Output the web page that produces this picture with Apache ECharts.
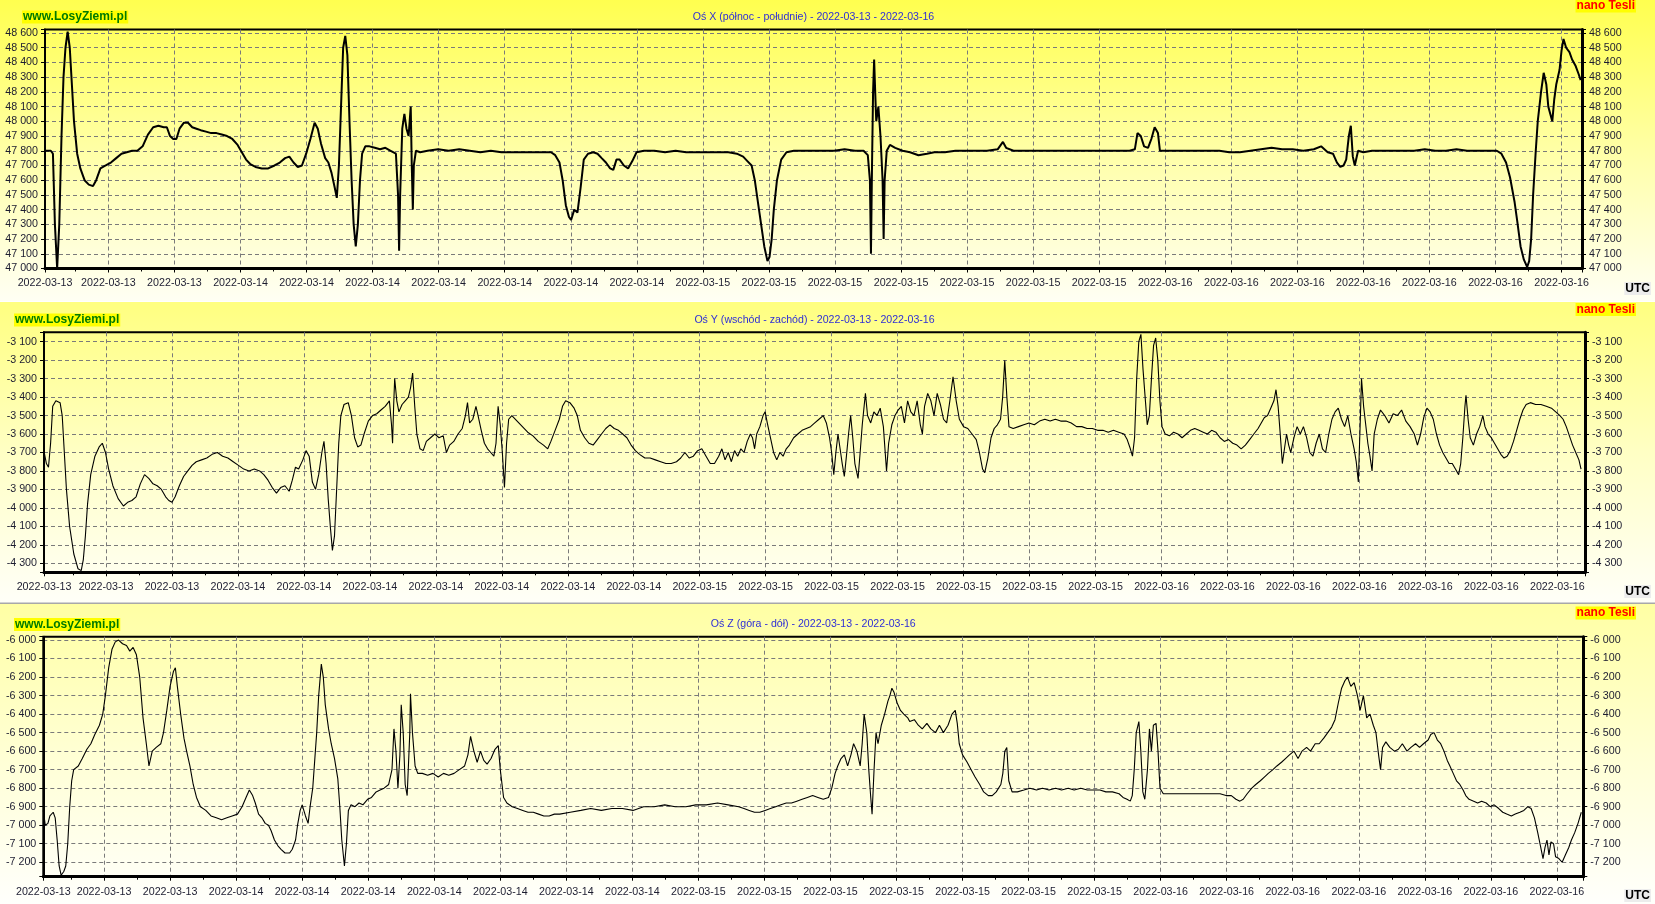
<!DOCTYPE html>
<html>
<head>
<meta charset="utf-8">
<script src="https://cdn.jsdelivr.net/npm/echarts@6/dist/echarts.min.js"></script>
<style>
  html, body { margin: 0; padding: 0; background: #fff; }
  #chart { width: 1655px; height: 904px; }
</style>
</head>
<body>
<div id="chart"></div>
<script>
// podpisy osi czasu (24 etykiety: na lewej krawedzi i przy kazdej pionowej linii siatki)
const xTickLabels = [
  '2022-03-13', '2022-03-13', '2022-03-13',
  '2022-03-14', '2022-03-14', '2022-03-14', '2022-03-14', '2022-03-14', '2022-03-14', '2022-03-14',
  '2022-03-15', '2022-03-15', '2022-03-15', '2022-03-15', '2022-03-15', '2022-03-15', '2022-03-15',
  '2022-03-16', '2022-03-16', '2022-03-16', '2022-03-16', '2022-03-16', '2022-03-16', '2022-03-16'
];

const panelTitles = [
  'Oś X (północ - południe) - 2022-03-13 - 2022-03-16',
  'Oś Y (wschód - zachód) - 2022-03-13 - 2022-03-16',
  'Oś Z (góra - dół) - 2022-03-13 - 2022-03-16'
];

// [czas w jednostkach siatki, nT]
const fieldX = [
  [0.04,47800],[0.128,47800],[0.16,47780],[0.19,47300],[0.224,47000],[0.256,47300],[0.29,47900],[0.32,48300],[0.35,48500],[0.383,48610],
  [0.415,48500],[0.447,48250],[0.479,48000],[0.527,47780],[0.575,47680],[0.639,47600],[0.703,47570],[0.767,47560],[0.815,47600],[0.879,47680],
  [0.959,47700],[1.038,47720],[1.118,47750],[1.198,47780],[1.278,47790],[1.358,47800],[1.438,47800],[1.518,47830],[1.598,47910],[1.678,47960],
  [1.757,47970],[1.837,47960],[1.885,47960],[1.933,47900],[1.981,47880],[2.029,47880],[2.077,47950],[2.141,47990],[2.205,47990],[2.269,47960],
  [2.333,47950],[2.397,47940],[2.477,47930],[2.556,47920],[2.636,47920],[2.716,47910],[2.796,47900],[2.876,47880],[2.956,47840],[3.02,47790],
  [3.084,47740],[3.147,47710],[3.227,47690],[3.323,47680],[3.419,47680],[3.515,47700],[3.595,47720],[3.675,47750],[3.739,47760],[3.803,47720],
  [3.867,47690],[3.93,47700],[3.994,47780],[4.058,47880],[4.122,47990],[4.17,47950],[4.218,47850],[4.282,47750],[4.33,47720],[4.378,47650],
  [4.426,47550],[4.458,47480],[4.49,47700],[4.522,48100],[4.554,48500],[4.586,48580],[4.618,48450],[4.65,48000],[4.682,47600],[4.713,47300],
  [4.745,47150],[4.777,47300],[4.809,47600],[4.841,47780],[4.889,47830],[4.953,47830],[5.033,47820],[5.113,47810],[5.193,47820],[5.273,47800],
  [5.353,47780],[5.385,47500],[5.401,47120],[5.417,47500],[5.449,47950],[5.481,48050],[5.513,47950],[5.545,47900],[5.577,48100],[5.593,47700],
  [5.609,47400],[5.624,47700],[5.656,47800],[5.72,47790],[5.832,47800],[5.992,47810],[6.151,47800],[6.311,47810],[6.471,47800],[6.631,47790],
  [6.79,47800],[6.95,47790],[7.11,47790],[7.27,47790],[7.429,47790],[7.589,47790],[7.701,47790],[7.765,47770],[7.829,47720],[7.877,47600],
  [7.925,47430],[7.973,47350],[8.005,47330],[8.053,47400],[8.101,47380],[8.149,47550],[8.197,47740],[8.261,47780],[8.341,47790],[8.405,47780],
  [8.468,47750],[8.532,47720],[8.596,47680],[8.644,47670],[8.692,47740],[8.74,47740],[8.804,47700],[8.868,47680],[8.932,47730],[8.996,47790],
  [9.108,47800],[9.267,47800],[9.427,47790],[9.587,47800],[9.747,47790],[9.907,47790],[10.066,47790],[10.226,47790],[10.386,47790],[10.514,47780],
  [10.61,47760],[10.674,47730],[10.738,47700],[10.786,47600],[10.834,47450],[10.882,47300],[10.93,47150],[10.978,47050],[11.01,47080],[11.042,47200],
  [11.074,47400],[11.122,47600],[11.186,47740],[11.266,47790],[11.378,47800],[11.506,47800],[11.666,47800],[11.825,47800],[11.985,47800],[12.145,47810],
  [12.305,47800],[12.433,47800],[12.497,47770],[12.529,47600],[12.545,47100],[12.561,47700],[12.577,48200],[12.593,48420],[12.609,48200],[12.625,48000],
  [12.657,48100],[12.689,47900],[12.721,47600],[12.737,47200],[12.752,47600],[12.784,47800],[12.832,47840],[12.912,47820],[13.024,47800],[13.136,47790],
  [13.264,47770],[13.392,47780],[13.504,47790],[13.664,47790],[13.823,47800],[13.983,47800],[14.143,47800],[14.303,47800],[14.463,47810],[14.543,47860],
  [14.591,47820],[14.703,47800],[14.863,47800],[15.02,47800],[15.18,47800],[15.34,47800],[15.5,47800],[15.66,47800],[15.82,47800],[15.98,47800],
  [16.14,47800],[16.3,47800],[16.46,47800],[16.54,47810],[16.58,47920],[16.63,47900],[16.68,47830],[16.74,47820],[16.79,47880],[16.84,47960],
  [16.89,47920],[16.92,47800],[17.02,47800],[17.18,47800],[17.34,47800],[17.5,47800],[17.66,47800],[17.82,47800],[17.97,47790],[18.13,47790],
  [18.29,47800],[18.45,47810],[18.61,47820],[18.77,47810],[18.93,47810],[19.09,47800],[19.25,47810],[19.36,47830],[19.46,47790],[19.54,47780],
  [19.6,47720],[19.65,47690],[19.7,47700],[19.74,47740],[19.78,47900],[19.81,47970],[19.84,47760],[19.87,47700],[19.92,47800],[20.0,47790],
  [20.13,47800],[20.29,47800],[20.45,47800],[20.61,47800],[20.77,47800],[20.93,47810],[21.09,47800],[21.25,47800],[21.41,47810],[21.57,47800],
  [21.73,47800],[21.89,47800],[22.02,47800],[22.09,47780],[22.16,47720],[22.22,47620],[22.29,47450],[22.33,47320],[22.38,47150],[22.43,47060],
  [22.48,47010],[22.51,47050],[22.54,47200],[22.57,47500],[22.61,47800],[22.64,48000],[22.69,48200],[22.73,48330],[22.77,48250],[22.8,48100],
  [22.83,48050],[22.86,48000],[22.89,48150],[22.92,48250],[22.97,48350],[23.0,48480],[23.03,48560],[23.07,48500],[23.12,48470],[23.16,48420],
  [23.21,48380],[23.26,48320],[23.29,48280]
];

const fieldY = [
  [0.064,-3700],[0.096,-3760],[0.128,-3780],[0.16,-3650],[0.192,-3450],[0.24,-3420],[0.304,-3430],[0.336,-3500],[0.368,-3700],[0.4,-3900],
  [0.448,-4100],[0.512,-4250],[0.576,-4330],[0.624,-4340],[0.656,-4280],[0.688,-4150],[0.72,-3980],[0.768,-3820],[0.832,-3720],[0.896,-3670],
  [0.944,-3650],[0.992,-3700],[1.04,-3790],[1.104,-3880],[1.184,-3950],[1.264,-3990],[1.328,-3970],[1.392,-3960],[1.456,-3940],[1.52,-3870],
  [1.584,-3820],[1.648,-3840],[1.712,-3870],[1.776,-3880],[1.84,-3900],[1.904,-3940],[1.952,-3960],[2.0,-3970],[2.048,-3940],[2.112,-3880],
  [2.176,-3830],[2.24,-3800],[2.304,-3770],[2.368,-3750],[2.448,-3740],[2.528,-3730],[2.608,-3710],[2.688,-3700],[2.768,-3720],[2.848,-3730],
  [2.928,-3750],[3.008,-3770],[3.088,-3790],[3.168,-3800],[3.248,-3790],[3.328,-3800],[3.392,-3820],[3.456,-3850],[3.52,-3890],[3.584,-3920],
  [3.648,-3890],[3.712,-3880],[3.776,-3910],[3.824,-3850],[3.872,-3780],[3.92,-3790],[3.984,-3740],[4.032,-3690],[4.08,-3720],[4.128,-3860],
  [4.176,-3900],[4.224,-3820],[4.272,-3700],[4.304,-3640],[4.336,-3760],[4.368,-3950],[4.4,-4100],[4.432,-4230],[4.464,-4150],[4.496,-3900],
  [4.528,-3650],[4.56,-3500],[4.608,-3440],[4.672,-3430],[4.72,-3500],[4.768,-3620],[4.816,-3670],[4.864,-3660],[4.912,-3600],[4.976,-3530],
  [5.04,-3500],[5.104,-3490],[5.168,-3470],[5.232,-3450],[5.296,-3420],[5.328,-3550],[5.344,-3650],[5.36,-3450],[5.376,-3300],[5.408,-3420],
  [5.44,-3480],[5.488,-3440],[5.536,-3420],[5.584,-3400],[5.616,-3350],[5.648,-3270],[5.68,-3450],[5.712,-3600],[5.76,-3680],[5.808,-3690],
  [5.856,-3640],[5.92,-3620],[5.984,-3600],[6.048,-3620],[6.112,-3610],[6.16,-3700],[6.208,-3660],[6.272,-3640],[6.336,-3600],[6.4,-3570],
  [6.448,-3500],[6.48,-3430],[6.512,-3540],[6.56,-3520],[6.608,-3450],[6.64,-3500],[6.688,-3580],[6.736,-3650],[6.784,-3680],[6.832,-3700],
  [6.88,-3720],[6.912,-3650],[6.944,-3450],[6.976,-3550],[7.008,-3700],[7.04,-3890],[7.072,-3650],[7.104,-3520],[7.152,-3500],[7.232,-3530],
  [7.312,-3560],[7.392,-3590],[7.472,-3610],[7.552,-3640],[7.632,-3660],[7.696,-3680],[7.744,-3640],[7.808,-3580],[7.872,-3520],[7.92,-3450],
  [7.968,-3420],[8.032,-3430],[8.096,-3460],[8.144,-3500],[8.192,-3580],[8.256,-3620],[8.32,-3650],[8.384,-3660],[8.448,-3630],[8.512,-3600],
  [8.576,-3570],[8.64,-3550],[8.704,-3570],[8.768,-3580],[8.832,-3600],[8.896,-3620],[8.96,-3660],[9.024,-3690],[9.088,-3710],[9.168,-3730],
  [9.248,-3730],[9.328,-3740],[9.408,-3750],[9.488,-3760],[9.568,-3760],[9.648,-3750],[9.712,-3730],[9.776,-3700],[9.84,-3730],[9.904,-3720],
  [9.968,-3690],[10.032,-3680],[10.096,-3720],[10.16,-3760],[10.224,-3760],[10.288,-3720],[10.336,-3680],[10.384,-3740],[10.432,-3700],[10.48,-3750],
  [10.528,-3690],[10.576,-3720],[10.624,-3680],[10.672,-3700],[10.72,-3640],[10.768,-3600],[10.8,-3620],[10.832,-3680],[10.864,-3600],[10.912,-3560],
  [10.96,-3500],[10.992,-3480],[11.024,-3540],[11.072,-3620],[11.12,-3700],[11.168,-3740],[11.216,-3700],[11.264,-3720],[11.312,-3680],[11.36,-3660],
  [11.424,-3620],[11.488,-3600],[11.552,-3580],[11.616,-3570],[11.68,-3560],[11.744,-3540],[11.808,-3520],[11.872,-3500],[11.92,-3540],[11.968,-3620],
  [12.0,-3700],[12.032,-3820],[12.064,-3700],[12.096,-3600],[12.128,-3680],[12.16,-3760],[12.192,-3830],[12.224,-3720],[12.256,-3600],[12.288,-3500],
  [12.32,-3620],[12.352,-3760],[12.4,-3840],[12.432,-3700],[12.464,-3550],[12.512,-3380],[12.544,-3500],[12.592,-3540],[12.64,-3480],[12.688,-3500],
  [12.736,-3460],[12.784,-3560],[12.832,-3800],[12.864,-3650],[12.912,-3550],[12.96,-3500],[13.008,-3470],[13.056,-3450],[13.104,-3540],[13.152,-3420],
  [13.2,-3480],[13.248,-3500],[13.296,-3420],[13.344,-3550],[13.376,-3600],[13.408,-3450],[13.456,-3380],[13.504,-3420],[13.552,-3500],[13.6,-3380],
  [13.648,-3440],[13.696,-3520],[13.744,-3540],[13.792,-3420],[13.84,-3290],[13.888,-3420],[13.936,-3520],[14.0,-3560],[14.064,-3570],[14.128,-3600],
  [14.192,-3630],[14.24,-3700],[14.288,-3790],[14.32,-3810],[14.368,-3730],[14.416,-3620],[14.464,-3570],[14.512,-3550],[14.56,-3520],[14.592,-3400],
  [14.624,-3200],[14.656,-3400],[14.688,-3560],[14.752,-3570],[14.832,-3560],[14.912,-3550],[14.992,-3540],[15.072,-3550],[15.152,-3530],[15.232,-3520],
  [15.312,-3530],[15.392,-3520],[15.472,-3530],[15.552,-3530],[15.632,-3540],[15.712,-3560],[15.792,-3560],[15.872,-3570],[15.952,-3570],[16.032,-3580],
  [16.112,-3580],[16.192,-3590],[16.272,-3580],[16.352,-3590],[16.432,-3600],[16.48,-3630],[16.528,-3680],[16.56,-3720],[16.592,-3620],[16.624,-3300],
  [16.656,-3100],[16.688,-3060],[16.72,-3250],[16.752,-3400],[16.784,-3550],[16.816,-3500],[16.848,-3300],[16.88,-3120],[16.912,-3080],[16.944,-3200],
  [16.976,-3420],[17.008,-3560],[17.056,-3600],[17.12,-3610],[17.184,-3590],[17.248,-3600],[17.312,-3620],[17.376,-3600],[17.44,-3580],[17.504,-3570],
  [17.568,-3580],[17.632,-3590],[17.696,-3600],[17.76,-3580],[17.824,-3590],[17.888,-3620],[17.952,-3640],[18.016,-3630],[18.08,-3650],[18.144,-3660],
  [18.208,-3680],[18.272,-3660],[18.336,-3630],[18.4,-3600],[18.464,-3570],[18.512,-3540],[18.56,-3510],[18.608,-3500],[18.656,-3460],[18.704,-3420],
  [18.736,-3360],[18.768,-3450],[18.8,-3600],[18.832,-3760],[18.864,-3680],[18.896,-3600],[18.928,-3660],[18.96,-3700],[19.008,-3620],[19.056,-3560],
  [19.104,-3600],[19.152,-3560],[19.2,-3620],[19.248,-3700],[19.296,-3720],[19.344,-3650],[19.392,-3600],[19.44,-3680],[19.488,-3700],[19.536,-3600],
  [19.584,-3520],[19.632,-3480],[19.68,-3460],[19.728,-3520],[19.776,-3560],[19.824,-3500],[19.872,-3600],[19.92,-3680],[19.952,-3750],[19.984,-3860],
  [20.016,-3500],[20.032,-3300],[20.064,-3450],[20.096,-3550],[20.128,-3650],[20.16,-3720],[20.192,-3800],[20.224,-3600],[20.272,-3520],[20.32,-3470],
  [20.384,-3500],[20.448,-3540],[20.512,-3490],[20.576,-3500],[20.64,-3470],[20.704,-3530],[20.768,-3560],[20.832,-3600],[20.88,-3660],[20.928,-3600],
  [20.976,-3510],[21.024,-3460],[21.072,-3480],[21.12,-3520],[21.168,-3600],[21.216,-3660],[21.264,-3700],[21.312,-3730],[21.36,-3760],[21.408,-3760],
  [21.456,-3790],[21.504,-3820],[21.536,-3760],[21.568,-3620],[21.6,-3450],[21.616,-3390],[21.648,-3520],[21.68,-3620],[21.728,-3660],[21.776,-3600],
  [21.824,-3560],[21.872,-3500],[21.904,-3560],[21.952,-3600],[22.0,-3620],[22.048,-3650],[22.096,-3680],[22.144,-3710],[22.192,-3730],[22.24,-3720],
  [22.288,-3690],[22.336,-3640],[22.384,-3580],[22.432,-3520],[22.48,-3470],[22.528,-3440],[22.592,-3430],[22.672,-3440],[22.752,-3440],[22.832,-3450],
  [22.912,-3460],[22.976,-3480],[23.04,-3500],[23.088,-3520],[23.136,-3560],[23.184,-3610],[23.232,-3660],[23.28,-3700],[23.328,-3740],[23.36,-3790]
];

const fieldZ = [
  [0.08,-6920],[0.11,-7000],[0.15,-6990],[0.18,-6950],[0.23,-6930],[0.26,-6960],[0.29,-7080],[0.32,-7220],[0.35,-7270],[0.39,-7250],
  [0.42,-7220],[0.45,-7100],[0.48,-6900],[0.51,-6760],[0.54,-6700],[0.61,-6680],[0.67,-6640],[0.74,-6590],[0.8,-6560],[0.86,-6510],
  [0.93,-6460],[0.98,-6400],[1.02,-6300],[1.07,-6150],[1.12,-6050],[1.17,-6010],[1.22,-6000],[1.28,-6020],[1.34,-6030],[1.39,-6060],
  [1.44,-6040],[1.49,-6080],[1.54,-6200],[1.59,-6420],[1.64,-6560],[1.68,-6680],[1.73,-6600],[1.79,-6580],[1.86,-6560],[1.9,-6500],
  [1.95,-6380],[2.0,-6250],[2.05,-6170],[2.08,-6150],[2.11,-6250],[2.16,-6400],[2.21,-6530],[2.25,-6600],[2.3,-6680],[2.35,-6780],
  [2.4,-6850],[2.46,-6900],[2.54,-6920],[2.62,-6950],[2.7,-6960],[2.78,-6970],[2.86,-6960],[2.94,-6950],[3.02,-6940],[3.09,-6900],
  [3.15,-6850],[3.2,-6810],[3.25,-6840],[3.29,-6880],[3.34,-6940],[3.39,-6960],[3.44,-6990],[3.49,-7000],[3.53,-7030],[3.58,-7080],
  [3.63,-7110],[3.68,-7130],[3.74,-7150],[3.81,-7150],[3.85,-7130],[3.9,-7080],[3.93,-7000],[3.97,-6920],[4.0,-6890],[4.05,-6950],
  [4.09,-6990],[4.12,-6900],[4.16,-6800],[4.19,-6650],[4.22,-6500],[4.25,-6300],[4.29,-6130],[4.32,-6200],[4.35,-6350],[4.4,-6480],
  [4.44,-6560],[4.49,-6640],[4.54,-6750],[4.57,-6900],[4.6,-7080],[4.64,-7220],[4.67,-7100],[4.7,-6920],[4.74,-6890],[4.8,-6900],
  [4.86,-6880],[4.92,-6890],[4.99,-6860],[5.05,-6850],[5.12,-6820],[5.18,-6810],[5.24,-6800],[5.31,-6780],[5.36,-6700],[5.39,-6480],
  [5.42,-6600],[5.45,-6800],[5.48,-6620],[5.5,-6350],[5.53,-6500],[5.56,-6780],[5.59,-6840],[5.63,-6500],[5.64,-6290],[5.67,-6500],
  [5.71,-6680],[5.75,-6720],[5.82,-6720],[5.9,-6730],[5.98,-6720],[6.06,-6740],[6.14,-6720],[6.22,-6730],[6.3,-6720],[6.38,-6700],
  [6.46,-6680],[6.51,-6620],[6.55,-6520],[6.6,-6600],[6.65,-6660],[6.7,-6600],[6.75,-6650],[6.8,-6670],[6.86,-6640],[6.92,-6590],
  [6.97,-6570],[7.0,-6700],[7.05,-6850],[7.1,-6880],[7.18,-6900],[7.26,-6910],[7.34,-6920],[7.42,-6930],[7.5,-6930],[7.58,-6940],
  [7.66,-6950],[7.74,-6950],[7.82,-6940],[7.9,-6940],[8.06,-6930],[8.22,-6920],[8.37,-6910],[8.53,-6920],[8.69,-6910],[8.85,-6910],
  [9.01,-6920],[9.17,-6900],[9.33,-6900],[9.49,-6890],[9.65,-6900],[9.81,-6900],[9.96,-6890],[10.12,-6890],[10.29,-6880],[10.45,-6890],
  [10.61,-6900],[10.69,-6910],[10.77,-6920],[10.85,-6930],[10.93,-6930],[11.01,-6920],[11.09,-6910],[11.17,-6900],[11.25,-6890],[11.33,-6880],
  [11.41,-6880],[11.49,-6870],[11.57,-6860],[11.65,-6850],[11.73,-6840],[11.81,-6850],[11.89,-6860],[11.97,-6850],[12.02,-6800],[12.07,-6720],
  [12.11,-6680],[12.16,-6640],[12.21,-6620],[12.26,-6680],[12.31,-6620],[12.35,-6560],[12.4,-6600],[12.45,-6680],[12.48,-6560],[12.51,-6400],
  [12.55,-6500],[12.58,-6700],[12.61,-6850],[12.63,-6940],[12.66,-6700],[12.69,-6500],[12.72,-6560],[12.77,-6460],[12.82,-6400],[12.87,-6330],
  [12.9,-6300],[12.93,-6260],[12.96,-6280],[13.01,-6340],[13.06,-6380],[13.11,-6400],[13.17,-6420],[13.2,-6440],[13.27,-6430],[13.33,-6460],
  [13.39,-6480],[13.46,-6450],[13.52,-6480],[13.59,-6500],[13.65,-6460],[13.71,-6500],[13.78,-6460],[13.84,-6400],[13.89,-6380],[13.92,-6450],
  [13.95,-6560],[14.0,-6620],[14.07,-6660],[14.13,-6700],[14.19,-6740],[14.26,-6780],[14.32,-6820],[14.39,-6840],[14.45,-6840],[14.51,-6820],
  [14.58,-6780],[14.61,-6720],[14.64,-6600],[14.67,-6580],[14.7,-6760],[14.75,-6820],[14.83,-6820],[14.93,-6810],[15.02,-6800],[15.12,-6810],
  [15.21,-6800],[15.31,-6810],[15.41,-6800],[15.5,-6810],[15.6,-6800],[15.69,-6810],[15.79,-6800],[15.89,-6810],[15.98,-6810],[16.08,-6810],
  [16.17,-6820],[16.27,-6820],[16.37,-6830],[16.43,-6850],[16.49,-6860],[16.54,-6870],[16.57,-6840],[16.6,-6700],[16.63,-6500],[16.67,-6440],
  [16.7,-6600],[16.73,-6820],[16.76,-6860],[16.8,-6700],[16.83,-6480],[16.86,-6600],[16.89,-6460],[16.93,-6450],[16.96,-6600],[16.99,-6800],
  [17.04,-6830],[17.13,-6830],[17.23,-6830],[17.32,-6830],[17.42,-6830],[17.52,-6830],[17.61,-6830],[17.71,-6830],[17.8,-6830],[17.9,-6830],
  [17.99,-6840],[18.07,-6840],[18.14,-6860],[18.2,-6870],[18.25,-6860],[18.31,-6830],[18.38,-6800],[18.44,-6780],[18.51,-6760],[18.57,-6740],
  [18.63,-6720],[18.7,-6700],[18.76,-6680],[18.83,-6660],[18.89,-6640],[18.95,-6620],[19.02,-6600],[19.08,-6640],[19.14,-6600],[19.21,-6580],
  [19.27,-6600],[19.34,-6560],[19.4,-6560],[19.47,-6530],[19.53,-6500],[19.59,-6470],[19.64,-6430],[19.69,-6340],[19.74,-6260],[19.79,-6220],
  [19.83,-6200],[19.88,-6250],[19.93,-6230],[19.98,-6300],[20.02,-6380],[20.07,-6300],[20.12,-6420],[20.17,-6400],[20.22,-6460],[20.26,-6500],
  [20.3,-6620],[20.33,-6700],[20.36,-6580],[20.41,-6550],[20.47,-6580],[20.54,-6600],[20.6,-6590],[20.66,-6560],[20.73,-6600],[20.79,-6580],
  [20.86,-6560],[20.92,-6580],[20.98,-6560],[21.05,-6540],[21.09,-6510],[21.14,-6500],[21.19,-6540],[21.24,-6560],[21.29,-6600],[21.34,-6650],
  [21.38,-6680],[21.43,-6720],[21.48,-6760],[21.53,-6780],[21.58,-6810],[21.62,-6840],[21.67,-6860],[21.74,-6870],[21.8,-6880],[21.86,-6870],
  [21.93,-6880],[21.99,-6900],[22.05,-6890],[22.12,-6910],[22.18,-6930],[22.24,-6940],[22.31,-6950],[22.37,-6940],[22.44,-6930],[22.5,-6920],
  [22.56,-6900],[22.61,-6910],[22.66,-6960],[22.71,-7040],[22.75,-7110],[22.79,-7180],[22.82,-7120],[22.85,-7080],[22.88,-7160],[22.91,-7090],
  [22.95,-7100],[22.98,-7170],[23.03,-7180],[23.08,-7200],[23.13,-7160],[23.18,-7120],[23.22,-7080],[23.27,-7040],[23.32,-6990],[23.37,-6930]
];

const fieldData = [fieldX, fieldY, fieldZ];

// uklad paneli (piksele) i zakresy osi
const panels = [
  { bgTop: 0, bgH: 301, colors: ['#ffff4f', '#ffffa6', '#fffff4'],
    grid: { left: 45, top: 29.5, width: 1537, height: 239 },
    xMin: 0.04, xMax: 23.31, yMin: 47000, yMax: 48624, ySplit: 16, lineWidth: 2,
    siteX: 22, siteY: 17, titleY: 17, unitY: 6, utcY: 288.5 },
  { bgTop: 302, bgH: 300, colors: ['#ffff80', '#ffffc4', '#fffff8'],
    grid: { left: 44, top: 332.3, width: 1541, height: 240 },
    xMin: 0.06, xMax: 23.42, yMin: -4349, yMax: -3049, ySplit: 13, lineWidth: 1.1,
    siteX: 14, siteY: 320, titleY: 320.5, unitY: 309.5, utcY: 591.5 },
  { bgTop: 604, bgH: 300, colors: ['#ffffa4', '#ffffd4', '#fffffc'],
    grid: { left: 43.3, top: 636.7, width: 1540, height: 240 },
    xMin: 0.08, xMax: 23.40, yMin: -7278, yMax: -5982, ySplit: 13, lineWidth: 1.1,
    siteX: 14, siteY: 624.5, titleY: 624.5, unitY: 613, utcY: 895.5 }
];

const FONT = '"Liberation Sans", Arial, sans-serif';
const LABEL_COLOR = '#1c1c30';

function formatNT(v) {
  if (Math.abs(v % 100) > 1e-6) return '';
  const s = String(Math.abs(Math.round(v)));
  const t = s.length > 3 ? s.slice(0, -3) + ' ' + s.slice(-3) : s;
  return (v < 0 ? '-' : '') + t;
}

function timeFormatter(min) {
  return function (v) {
    if (Math.abs(v - min) < 1e-6) return xTickLabels[0];
    const r = Math.round(v);
    if (Math.abs(v - r) > 1e-6) return '';
    return xTickLabels[r] || '';
  };
}

const grids = [], xAxes = [], yAxes = [], series = [], graphics = [];

panels.forEach(function (p, i) {
  grids.push(Object.assign({ show: true, borderColor: '#000', borderWidth: 2, backgroundColor: 'transparent', outerBoundsMode: 'none' }, p.grid));

  xAxes.push({
    type: 'value', gridIndex: i, min: p.xMin, max: p.xMax, splitNumber: 23,
    axisLine: { show: true, onZero: false, lineStyle: { color: '#000', width: 3 } },
    axisTick: { show: true, length: 4, lineStyle: { color: '#000' } },
    minorTick: { show: true, splitNumber: 2, length: 3, lineStyle: { color: '#000' } },
    axisLabel: { show: true, interval: 0, showMinLabel: true, margin: 9.5, color: LABEL_COLOR, fontFamily: FONT, fontSize: 10.7, formatter: timeFormatter(p.xMin) },
    splitLine: { show: true, showMinLine: false, showMaxLine: false, lineStyle: { color: '#7a7a7a', type: [4, 3], width: 1 } }
  });

  const yCommon = {
    type: 'value', gridIndex: i, min: p.yMin, max: p.yMax, splitNumber: p.ySplit,
    axisTick: { show: true, length: 4, lineStyle: { color: '#000' } },
    axisLabel: { show: true, margin: 7, color: LABEL_COLOR, fontFamily: FONT, fontSize: 10.7, formatter: formatNT, showMinLabel: true, showMaxLabel: true }
  };
  yAxes.push(Object.assign({}, yCommon, {
    position: 'left',
    axisLine: { show: true, onZero: false, lineStyle: { color: '#000', width: 2 } },
    splitLine: { show: true, showMinLine: false, showMaxLine: false, lineStyle: { color: '#7a7a7a', type: [4, 3], width: 1 } }
  }));
  yAxes.push(Object.assign({}, yCommon, {
    position: 'right',
    axisLine: { show: true, onZero: false, lineStyle: { color: '#000', width: 3 } },
    splitLine: { show: false }
  }));

  series.push({
    type: 'line', xAxisIndex: i, yAxisIndex: i * 2, data: fieldData[i],
    showSymbol: false, symbol: 'none', clip: true, animation: false,
    lineStyle: { color: '#000', width: p.lineWidth }, z: 3
  });

  // tlo panelu
  graphics.push({
    type: 'rect', z: -10, silent: true,
    shape: { x: 0, y: p.bgTop, width: 1655, height: p.bgH },
    style: { fill: new echarts.graphic.LinearGradient(0, 0, 0, 1, [
      { offset: 0, color: p.colors[0] }, { offset: 0.5, color: p.colors[1] }, { offset: 1, color: p.colors[2] }
    ]) }
  });
  graphics.push({
    type: 'text', z: 50, x: p.siteX, y: p.siteY,
    style: { text: 'www.LosyZiemi.pl', fill: '#007a00', fontFamily: FONT, fontWeight: 'bold', fontSize: 12,
      backgroundColor: '#ffff00', padding: [1, 1, 0, 1], align: 'left', verticalAlign: 'middle' }
  });
  graphics.push({
    type: 'text', z: 50, x: p.grid.left + p.grid.width / 2, y: p.titleY,
    style: { text: panelTitles[i], fill: '#2f2fd6', fontFamily: FONT, fontSize: 10.6, align: 'center', verticalAlign: 'middle' }
  });
  graphics.push({
    type: 'text', z: 50, x: 1636, y: p.unitY,
    style: { text: 'nano Tesli', fill: '#ff0000', fontFamily: FONT, fontWeight: 'bold', fontSize: 12,
      backgroundColor: '#ffff00', padding: [1, 1, 0, 1], align: 'right', verticalAlign: 'middle' }
  });
  graphics.push({
    type: 'text', z: 50, x: 1651, y: p.utcY,
    style: { text: 'UTC', fill: '#000', fontFamily: FONT, fontWeight: 'bold', fontSize: 12,
      backgroundColor: '#ececec', padding: [1, 1, 0, 1], align: 'right', verticalAlign: 'middle' }
  });
});

// szara linia oddzielajaca panel Y od panelu Z
graphics.push({ type: 'rect', z: -5, silent: true, shape: { x: 0, y: 602.5, width: 1655, height: 1.5 }, style: { fill: '#a8a8a8' } });

const chart = echarts.init(document.getElementById('chart'), null, { renderer: 'canvas' });
chart.setOption({
  animation: false,
  backgroundColor: '#ffffff',
  grid: grids,
  xAxis: xAxes,
  yAxis: yAxes,
  series: series,
  graphic: { elements: graphics }
});
</script>
</body>
</html>
